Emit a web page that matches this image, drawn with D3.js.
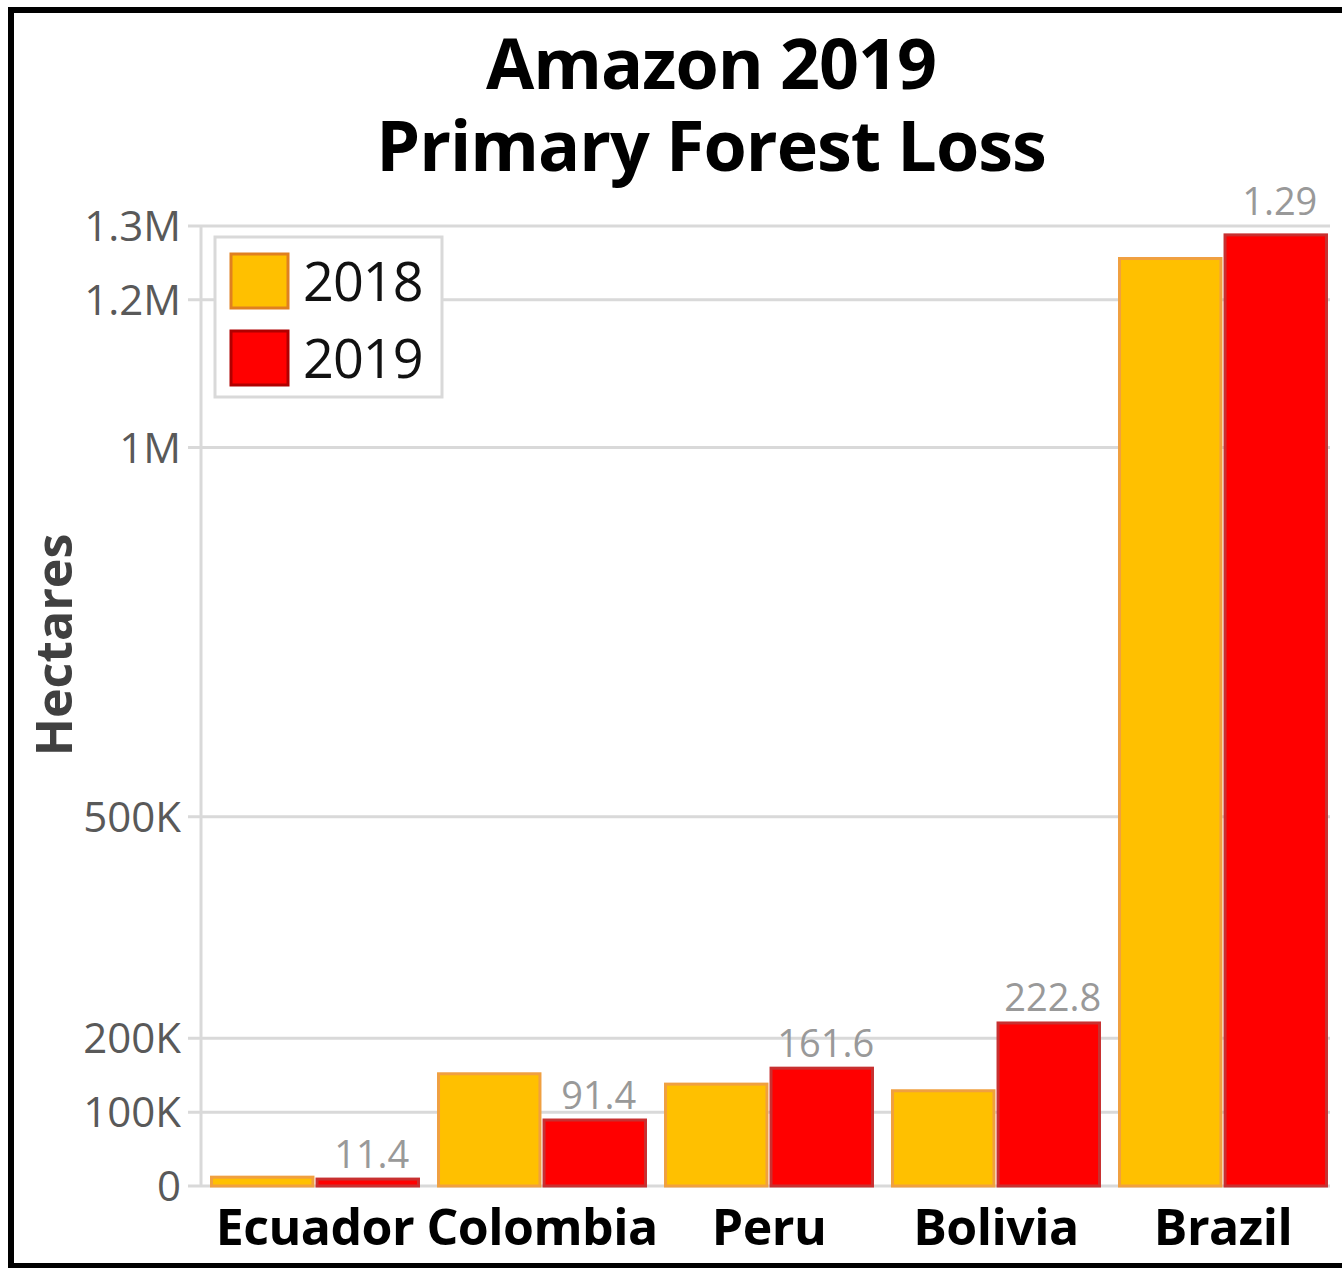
<!DOCTYPE html>
<html>
<head>
<meta charset="utf-8">
<script src="https://cdn.jsdelivr.net/npm/d3@7"></script>
<style>
  body { margin: 0; background: #fff; }
  text { font-family: "Open Sans", "Noto Sans", sans-serif; }
</style>
</head>
<body>
<svg id="chart" width="1342" height="1268"></svg>
<script>
// countries and hectares lost
const countries = ["Ecuador", "Colombia", "Peru", "Bolivia", "Brazil"];
const years = ["2018", "2019"];
const loss2018 = [14000, 154000, 140000, 131000, 1258000];
const loss2019 = [11400, 91400, 161600, 222800, 1290000];
const labels2019 = ["11.4", "91.4", "161.6", "222.8", "1.29"];
const yTicks = [0, 100000, 200000, 500000, 1000000, 1200000, 1300000];
const tickText = ["0", "100K", "200K", "500K", "1M", "1.2M", "1.3M"];
const titleLines = ["Amazon 2019", "Primary Forest Loss"];

const fills = {"2018": "#FFC000", "2019": "#FF0000"};
const strokes = {"2018": "#F0A040", "2019": "#C83030"};

const svg = d3.select("#chart");

// black frame round the whole thing
svg.append("rect").attr("x", 11).attr("y", 10).attr("width", 1340).attr("height", 1256)
    .attr("fill", "none").attr("stroke", "#000").attr("stroke-width", 6);

const y = d3.scaleLinear().domain([0, 1300000]).range([1186, 226]);
const x0 = d3.scaleBand().domain(countries).range([201.5, 1336.5]).paddingInner(0.075).paddingOuter(0.0375);
const x1 = d3.scaleBand().domain(years).range([0, x0.bandwidth()]).paddingInner(0.01);

// gridlines + tick stubs
svg.append("g").selectAll("line").data(yTicks).join("line")
    .attr("x1", 188).attr("x2", 1330)
    .attr("y1", d => y(d)).attr("y2", d => y(d))
    .attr("stroke", "#d9d9d9").attr("stroke-width", 3);

svg.append("line").attr("x1", 201).attr("x2", 201).attr("y1", y(1300000)).attr("y2", y(0))
    .attr("stroke", "#d9d9d9").attr("stroke-width", 3);

svg.append("g").selectAll("text").data(yTicks).join("text")
    .attr("x", 181).attr("y", d => y(d)).attr("dy", "0.36em")
    .attr("text-anchor", "end").attr("fill", "#595959")
    .style("font-size", "42px")
    .text((d, i) => tickText[i]);

// bars
const rows = countries.map((c, i) => ({country: c, vals: [
    {year: "2018", v: loss2018[i]}, {year: "2019", v: loss2019[i], label: labels2019[i]}]}));

const groups = svg.append("g").selectAll("g").data(rows).join("g")
    .attr("transform", d => `translate(${x0(d.country)},0)`);

groups.selectAll("rect").data(d => d.vals).join("rect")
    .attr("x", d => x1(d.year) + 1.5).attr("width", x1.bandwidth() - 3)
    .attr("y", d => y(d.v) + 1.5).attr("height", d => y(0) - y(d.v) - 1.5)
    .attr("fill", d => fills[d.year]).attr("stroke", d => strokes[d.year]).attr("stroke-width", 3);

// value labels sit just over the bar, or over the top gridline if the bar reaches it
const yTop = y(1300000);
groups.selectAll("text.val").data(d => d.vals.filter(v => v.label)).join("text")
    .attr("class", "val")
    .attr("x", d => x1(d.year) + x1.bandwidth() / 2 + 4)
    .attr("y", d => (y(d.v) - 48 < yTop) ? yTop - 11 : y(d.v) - 10)
    .attr("text-anchor", "middle").attr("fill", "#999")
    .style("font-size", "38px")
    .text(d => d.label);

// country names
svg.append("g").selectAll("text").data(countries).join("text")
    .attr("x", d => x0(d) + x0.bandwidth() / 2).attr("y", 1245)
    .attr("text-anchor", "middle").attr("fill", "#000")
    .style("font-size", "50px").style("font-weight", "bold").style("letter-spacing", "-0.5px")
    .text(d => d);

// y title
svg.append("text").attr("transform", "translate(72,645) rotate(-90)")
    .attr("text-anchor", "middle").attr("fill", "#404040")
    .style("font-size", "50px").style("font-weight", "bold")
    .text("Hectares");

// title, two lines
svg.append("g").selectAll("text").data(titleLines).join("text")
    .attr("x", 711).attr("y", (d, i) => 89 + i * 82)
    .attr("text-anchor", "middle").attr("fill", "#000")
    .style("font-size", "70px").style("font-weight", "bold").style("letter-spacing", "-1px")
    .text(d => d);

// legend
const lg = svg.append("g");
lg.append("rect").attr("x", 215).attr("y", 237).attr("width", 227).attr("height", 160)
    .attr("fill", "#fff").attr("stroke", "#d9d9d9").attr("stroke-width", 3);
const items = lg.selectAll("g").data(years).join("g")
    .attr("transform", (d, i) => `translate(231,${254 + i * 77})`);
items.append("rect").attr("width", 57).attr("height", 54)
    .attr("fill", d => fills[d]).attr("stroke", d => d === "2018" ? "#E08020" : "#B00000").attr("stroke-width", 3);
items.append("text").attr("x", 72).attr("y", 47).attr("fill", "#111")
    .style("font-size", "54px").style("letter-spacing", "-1px")
    .text(d => d);
</script>
</body>
</html>
